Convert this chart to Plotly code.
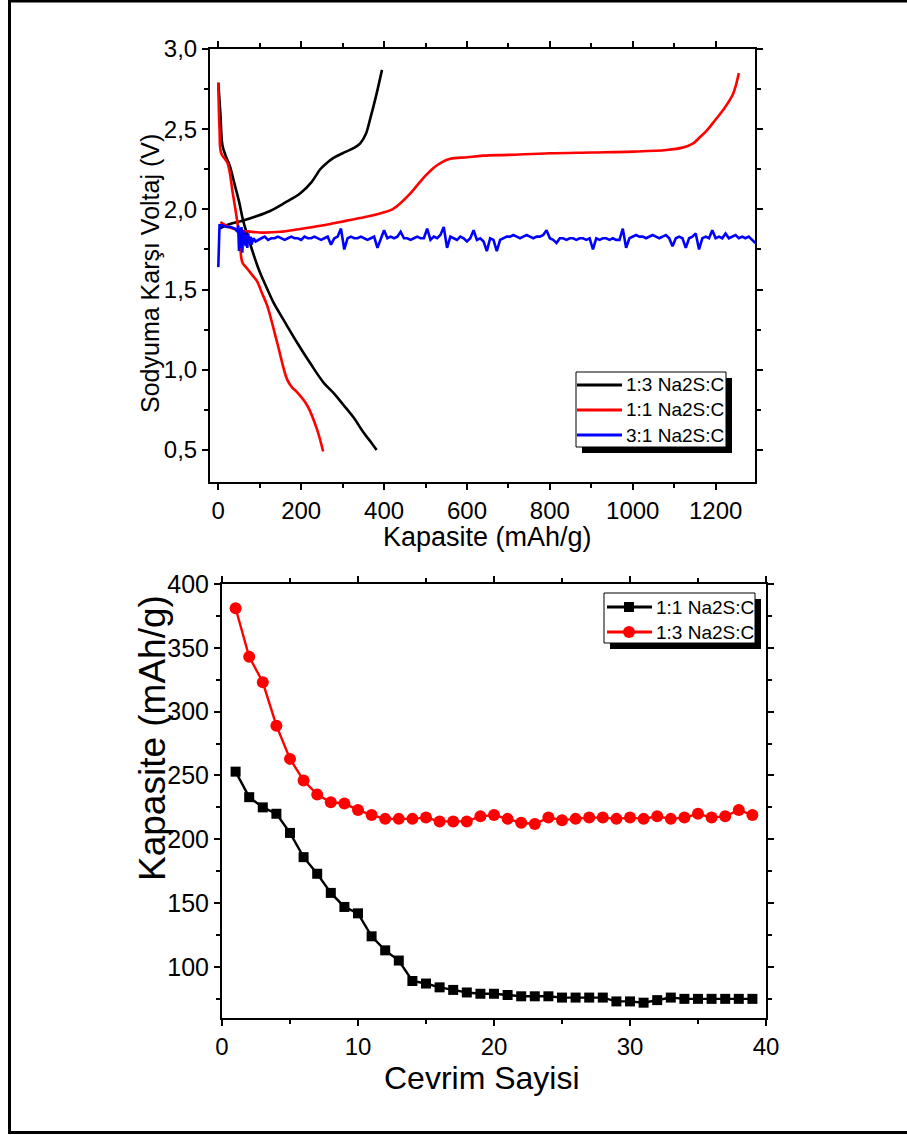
import plotly.graph_objects as go

W, H = 907, 1135
FONT = "Arial, Liberation Sans, sans-serif"

# ---- Voltage profiles (capacity mAh/g, voltage V) ----
cap_13_dis = [0, 5, 10, 17, 28, 38, 50, 60, 75, 97, 117, 133, 160, 190, 222, 254, 280, 302, 327, 350, 368, 382]
v_13_dis = [2.79, 2.60, 2.40, 2.34, 2.27, 2.17, 2.05, 1.93, 1.80, 1.63, 1.51, 1.42, 1.30, 1.17, 1.04, 0.92, 0.85, 0.78, 0.70, 0.61, 0.55, 0.50]

cap_13_chg = [3, 10, 30, 60, 90, 125, 160, 198, 225, 246, 262, 277, 300, 325, 342, 356, 366, 380, 395]
v_13_chg = [1.88, 1.89, 1.91, 1.93, 1.955, 1.99, 2.04, 2.10, 2.17, 2.25, 2.29, 2.32, 2.35, 2.38, 2.41, 2.47, 2.56, 2.70, 2.87]

cap_11_dis = [0, 3, 7, 22, 35, 46, 52, 58, 70, 82, 94, 105, 118, 142, 166, 178, 190, 214, 238, 253]
v_11_dis = [2.79, 2.50, 2.35, 2.29, 2.10, 1.92, 1.80, 1.67, 1.63, 1.59, 1.55, 1.48, 1.40, 1.17, 0.94, 0.89, 0.86, 0.78, 0.63, 0.49]

cap_11_chg = [5, 12, 25, 50, 80, 108, 150, 190, 250, 310, 360, 398, 420, 440, 460, 480, 500, 520, 540, 560,
              600, 639, 700, 800, 900, 1000, 1081, 1120, 1145, 1162, 1178, 1200, 1218, 1242, 1256]
v_11_chg = [1.92, 1.91, 1.89, 1.87, 1.86, 1.855, 1.86, 1.875, 1.90, 1.93, 1.955, 1.98, 2.00, 2.04, 2.09, 2.15, 2.21, 2.26, 2.295, 2.315,
            2.325, 2.335, 2.34, 2.35, 2.355, 2.36, 2.37, 2.385, 2.41, 2.45, 2.49, 2.56, 2.62, 2.72, 2.85]

# 3:1 cell: initial part read point by point, then a regular 8 mAh/g sampling grid
cap_31_head = [0, 1, 3, 10, 20, 30, 40, 46, 48, 50, 52, 54, 56, 58, 60, 62, 64, 66, 68, 70, 72, 75, 78, 80, 85, 90]
v_31_head = [1.64, 1.80, 1.90, 1.90, 1.89, 1.89, 1.88, 1.86, 1.90, 1.74, 1.88, 1.76, 1.89, 1.73, 1.87, 1.78,
             1.86, 1.77, 1.84, 1.76, 1.85, 1.79, 1.83, 1.78, 1.82, 1.80]
cap_31_tail = list(range(96, 1297, 8))
v_31_tail = [
    1.81, 1.82, 1.83, 1.81, 1.82, 1.82, 1.83, 1.82, 1.81, 1.82,
    1.83, 1.82, 1.82, 1.81, 1.83, 1.82, 1.82, 1.83, 1.82, 1.81,
    1.82, 1.83, 1.78, 1.82, 1.83, 1.88, 1.75, 1.82, 1.83, 1.82,
    1.82, 1.83, 1.82, 1.81, 1.82, 1.83, 1.76, 1.82, 1.87, 1.82,
    1.83, 1.82, 1.83, 1.86, 1.82, 1.82, 1.81, 1.82, 1.83, 1.82,
    1.82, 1.88, 1.81, 1.83, 1.82, 1.84, 1.89, 1.76, 1.83, 1.82,
    1.81, 1.83, 1.82, 1.80, 1.82, 1.87, 1.81, 1.82, 1.80, 1.74,
    1.82, 1.81, 1.74, 1.81, 1.82, 1.83, 1.83, 1.84, 1.83, 1.82,
    1.83, 1.84, 1.83, 1.82, 1.83, 1.83, 1.84, 1.87, 1.82, 1.81,
    1.79, 1.82, 1.82, 1.81, 1.82, 1.82, 1.81, 1.82, 1.82, 1.81,
    1.82, 1.75, 1.82, 1.81, 1.82, 1.82, 1.81, 1.82, 1.81, 1.81,
    1.88, 1.76, 1.82, 1.83, 1.84, 1.83, 1.83, 1.82, 1.83, 1.84,
    1.83, 1.82, 1.83, 1.84, 1.82, 1.77, 1.82, 1.83, 1.82, 1.76,
    1.82, 1.83, 1.85, 1.75, 1.82, 1.83, 1.82, 1.87, 1.82, 1.83,
    1.82, 1.85, 1.82, 1.83, 1.84, 1.82, 1.83, 1.82, 1.83, 1.81,
    1.79,
]
cap_31 = cap_31_head + cap_31_tail
v_31 = v_31_head + v_31_tail

# ---- Cycling capacity ----
cycles = list(range(1, 40))
cap_11_cyc = [253, 233, 225, 220, 205, 186, 173, 158, 147, 142,
              124, 113, 105, 89, 87, 84, 82, 80, 79, 79,
              78, 77, 77, 77, 76, 76, 76, 76, 73, 73,
              72, 74, 76, 75, 75, 75, 75, 75, 75]
cap_13_cyc = [381, 343, 323, 289, 263, 246, 235, 229, 228, 223,
              219, 216, 216, 216, 217, 214, 214, 214, 218, 219,
              216, 213, 212, 217, 215, 216, 217, 217, 216, 217,
              216, 218, 216, 217, 220, 217, 218, 223, 219]

v_ticks = [0.5, 1.0, 1.5, 2.0, 2.5, 3.0]
v_ticktext = ["0,5", "1,0", "1,5", "2,0", "2,5", "3,0"]

BLACK, RED, BLUE = "#000000", "#ff0000", "#0000ff"


def px_x(p):
    return p / W


def px_y(p):
    return 1 - p / H


fig = go.Figure()

lw = 2.6
fig.add_trace(go.Scatter(x=cap_13_dis, y=v_13_dis, mode="lines", line=dict(color=BLACK, width=lw, shape="spline"),
                         xaxis="x", yaxis="y"))
fig.add_trace(go.Scatter(x=cap_13_chg, y=v_13_chg, mode="lines", line=dict(color=BLACK, width=lw, shape="spline"),
                         xaxis="x", yaxis="y"))
fig.add_trace(go.Scatter(x=cap_11_dis, y=v_11_dis, mode="lines", line=dict(color=RED, width=lw, shape="spline"),
                         xaxis="x", yaxis="y"))
fig.add_trace(go.Scatter(x=cap_11_chg, y=v_11_chg, mode="lines", line=dict(color=RED, width=lw, shape="spline"),
                         xaxis="x", yaxis="y"))
fig.add_trace(go.Scatter(x=cap_31, y=v_31, mode="lines", line=dict(color=BLUE, width=2.6),
                         xaxis="x", yaxis="y"))

fig.add_trace(go.Scatter(x=cycles, y=cap_11_cyc, mode="lines+markers",
                         line=dict(color=BLACK, width=2.4),
                         marker=dict(symbol="square", size=10, color=BLACK),
                         xaxis="x2", yaxis="y2"))
fig.add_trace(go.Scatter(x=cycles, y=cap_13_cyc, mode="lines+markers",
                         line=dict(color=RED, width=2.4),
                         marker=dict(symbol="circle", size=12, color=RED),
                         xaxis="x2", yaxis="y2"))

axis_common = dict(showline=True, linecolor="black", linewidth=2, mirror="ticks",
                   ticks="outside", ticklen=6, tickwidth=2, tickcolor="black",
                   showgrid=False, zeroline=False, automargin=False)
minor_common = dict(ticks="outside", ticklen=4, tickwidth=1.5, tickcolor="black", showgrid=False)

fig.update_layout(
    template="none",
    showlegend=False,
    width=W, height=H,
    margin=dict(l=0, r=0, t=0, b=0, pad=0, autoexpand=False),
    paper_bgcolor="white", plot_bgcolor="white",
    font=dict(family=FONT, color="black"),
    xaxis=dict(domain=[px_x(210), px_x(755)], range=[-20, 1295], anchor="y",
               tickvals=[0, 200, 400, 600, 800, 1000, 1200],
               minor=dict(dtick=100, tick0=0, **minor_common),
               tickfont=dict(family=FONT, size=24, color="black"),
               **axis_common),
    yaxis=dict(domain=[px_y(482), px_y(49)], range=[0.3, 3.0], anchor="x",
               tickvals=v_ticks, ticktext=v_ticktext,
               minor=dict(dtick=0.25, tick0=0, **minor_common),
               tickfont=dict(family=FONT, size=24, color="black"),
               **axis_common),
    xaxis2=dict(domain=[px_x(222), px_x(766)], range=[0, 40], anchor="y2",
                tickvals=[0, 10, 20, 30, 40],
                minor=dict(dtick=5, tick0=0, **minor_common),
                tickfont=dict(family=FONT, size=24, color="black"),
                **axis_common),
    yaxis2=dict(domain=[px_y(1018), px_y(584)], range=[60, 400], anchor="x2",
                tickvals=[100, 150, 200, 250, 300, 350, 400],
                minor=dict(dtick=25, tick0=0, **minor_common),
                tickfont=dict(family=FONT, size=25, color="black"),
                **axis_common),
)

# axis titles
fig.add_annotation(text="Sodyuma Karşı Voltaj (V)", x=px_x(150), y=px_y(274), textangle=-90,
                   font=dict(family=FONT, size=25, color="black"))
fig.add_annotation(text="Kapasite (mAh/g)", x=px_x(488), y=px_y(537),
                   font=dict(family=FONT, size=27, color="black"))
fig.add_annotation(text="Kapasite (mAh/g)", x=px_x(152), y=px_y(738), textangle=-90,
                   font=dict(family=FONT, size=37, color="black"))
fig.add_annotation(text="Cevrim Sayisi", x=px_x(482), y=px_y(1078),
                   font=dict(family=FONT, size=32, color="black"))
fig.update_annotations(xref="paper", yref="paper", xanchor="center", yanchor="middle", showarrow=False)


# framed legends with a drop shadow
def legend_box(x0, y0, x1, y1, entries, sample, text_x, marker_x=None):
    fig.add_shape(type="rect", xref="paper", yref="paper",
                  x0=px_x(x0 + 6), x1=px_x(x1 + 6), y0=px_y(y1 + 6), y1=px_y(y0 + 6),
                  fillcolor="black", line=dict(width=0))
    fig.add_shape(type="rect", xref="paper", yref="paper",
                  x0=px_x(x0), x1=px_x(x1), y0=px_y(y1), y1=px_y(y0),
                  fillcolor="white", line=dict(color="black", width=1))
    for label, color, yc, symbol in entries:
        fig.add_shape(type="line", xref="paper", yref="paper",
                      x0=px_x(sample[0]), x1=px_x(sample[1]), y0=px_y(yc), y1=px_y(yc),
                      line=dict(color=color, width=3))
        if symbol == "square":
            fig.add_shape(type="rect", xref="paper", yref="paper",
                          x0=px_x(marker_x - 5), x1=px_x(marker_x + 5), y0=px_y(yc + 5), y1=px_y(yc - 5),
                          fillcolor=color, line=dict(width=0))
        elif symbol == "circle":
            fig.add_shape(type="circle", xref="paper", yref="paper",
                          x0=px_x(marker_x - 6), x1=px_x(marker_x + 6), y0=px_y(yc + 6), y1=px_y(yc - 6),
                          fillcolor=color, line=dict(width=0))
        fig.add_annotation(text=label, x=px_x(text_x), y=px_y(yc), xref="paper", yref="paper",
                           xanchor="left", yanchor="middle", showarrow=False,
                           font=dict(family=FONT, size=19, color="black"))


legend_box(576, 372, 726, 447,
           [("1:3 Na2S:C", BLACK, 385, None), ("1:1 Na2S:C", RED, 410, None), ("3:1 Na2S:C", BLUE, 435, None)],
           sample=(577, 622), text_x=624)
legend_box(604, 593, 755, 643,
           [("1:1 Na2S:C", BLACK, 607, "square"), ("1:3 Na2S:C", RED, 632, "circle")],
           sample=(607, 652), text_x=654, marker_x=629)

# page frame
fig.add_shape(type="line", xref="paper", yref="paper", x0=px_x(9.5), x1=px_x(9.5), y0=px_y(0), y1=px_y(1134),
              line=dict(color="black", width=3))
fig.add_shape(type="line", xref="paper", yref="paper", x0=px_x(8), x1=1, y0=px_y(1), y1=px_y(1),
              line=dict(color="black", width=3))
fig.add_shape(type="line", xref="paper", yref="paper", x0=px_x(8), x1=1, y0=px_y(1132.5), y1=px_y(1132.5),
              line=dict(color="black", width=3))

fig.write_html("out.html")
